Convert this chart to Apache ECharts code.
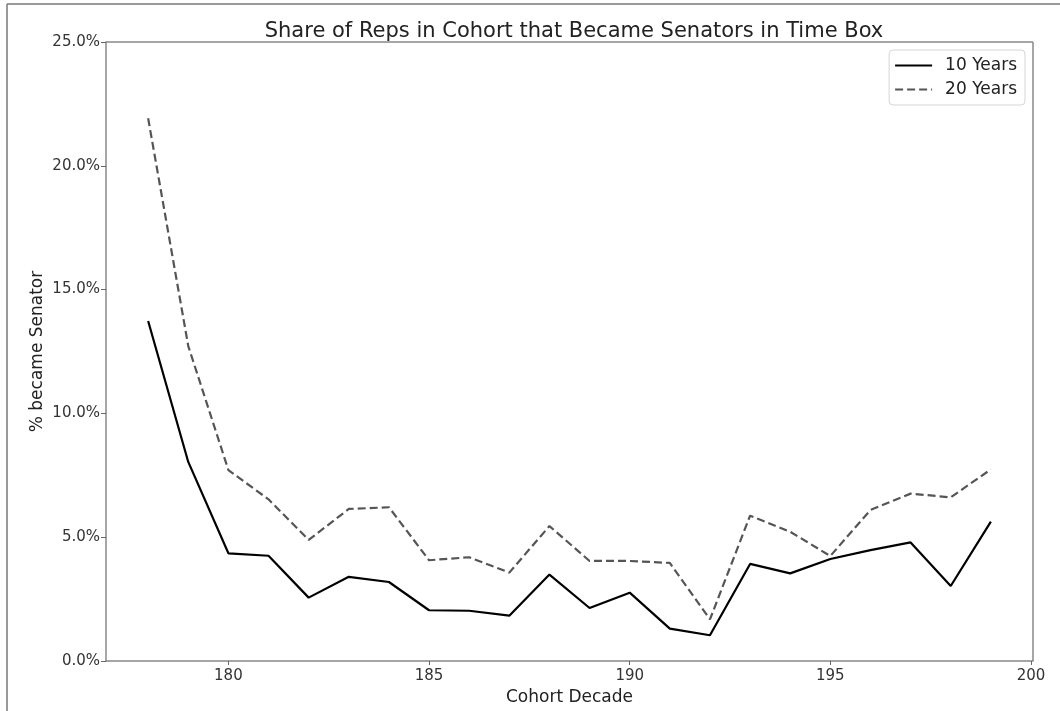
<!DOCTYPE html>
<html>
<head>
<meta charset="utf-8">
<script src="https://cdn.jsdelivr.net/npm/echarts@6/dist/echarts.min.js"></script>
<style>html,body{margin:0;padding:0;background:#fff}#c{width:1060px;height:711px}</style>
</head>
<body>
<div id="c"></div>
<script>
const decades = [178,179,180,181,182,183,184,185,186,187,188,189,190,191,192,193,194,195,196,197,198,199];
const tenYears = [13.73,8.04,4.35,4.25,2.56,3.40,3.19,2.05,2.03,1.83,3.49,2.14,2.76,1.31,1.04,3.92,3.54,4.12,4.48,4.79,3.03,5.63];
const twentyYears = [21.92,12.72,7.71,6.53,4.89,6.14,6.21,4.07,4.19,3.57,5.45,4.04,4.04,3.96,1.68,5.87,5.22,4.24,6.10,6.76,6.61,7.74];
const xTicks = [180,185,190,195,200];
const yTicks = [0,5,10,15,20,25];

const chart = echarts.init(document.getElementById('c'), null, {renderer:'canvas'});
const font = 'DejaVu Sans';
chart.setOption({
  animation:false,
  backgroundColor:'#fff',
  title:{text:'Share of Reps in Cohort that Became Senators in Time Box',left:569,textAlign:'center',top:16,
    textStyle:{fontFamily:font,fontSize:21,fontWeight:'normal',color:'#222'}},
  legend:{right:35,top:50,orient:'vertical',itemWidth:37,itemHeight:14,itemGap:7,
    padding:[7,8,7,5],borderColor:'#d5d5d5',borderWidth:1,borderRadius:4,
    itemStyle:{opacity:0},
    textStyle:{fontFamily:font,fontSize:17,color:'#222',padding:[0,0,0,8]},
    data:['10 Years','20 Years']},
  grid:{left:106,right:27,top:42,bottom:50},
  xAxis:{type:'value',min:176.95,max:200.05,name:'Cohort Decade',nameLocation:'middle',nameGap:24,
    nameTextStyle:{fontFamily:font,fontSize:17,color:'#222'},
    splitLine:{show:false},
    axisLine:{show:true,onZero:false,lineStyle:{color:'#888',width:1.5}},
    axisTick:{show:true,length:4,customValues:xTicks,lineStyle:{color:'#666'}},
    axisLabel:{customValues:xTicks,fontFamily:font,fontSize:15,color:'#333',margin:8,formatter:v=>String(v)}},
  yAxis:{type:'value',min:0,max:25,interval:5,name:'% became Senator',nameLocation:'middle',nameGap:60,
    nameMoveOverlap:false,
    nameTextStyle:{fontFamily:font,fontSize:17,color:'#222'},
    splitLine:{show:false},
    axisLine:{show:true,lineStyle:{color:'#888',width:1.5}},
    axisTick:{show:true,length:5,lineStyle:{color:'#666'}},
    axisLabel:{fontFamily:font,fontSize:15,color:'#333',margin:6,formatter:v=>v.toFixed(1)+'%'}},
  graphic:[
    {type:'line',shape:{x1:7,y1:4,x2:1060,y2:4},style:{stroke:'#777',lineWidth:1.5},silent:true},
    {type:'line',shape:{x1:7,y1:4,x2:7,y2:711},style:{stroke:'#777',lineWidth:1.5},silent:true},
    {type:'line',shape:{x1:1033,y1:42,x2:1033,y2:661},style:{stroke:'#888',lineWidth:1.5},silent:true},
    {type:'line',shape:{x1:106,y1:42,x2:1033,y2:42},style:{stroke:'#888',lineWidth:1.5},silent:true}
  ],
  series:[
    {name:'10 Years',type:'line',data:decades.map((d,i)=>[d,tenYears[i]]),showSymbol:false,symbol:'none',
      lineStyle:{color:'#000',width:2.2},itemStyle:{color:'#000'}},
    {name:'20 Years',type:'line',data:decades.map((d,i)=>[d,twentyYears[i]]),showSymbol:false,symbol:'none',
      lineStyle:{color:'#555',width:2.2,type:[8,4]},itemStyle:{color:'#555'}}
  ]
});
</script>
</body>
</html>
